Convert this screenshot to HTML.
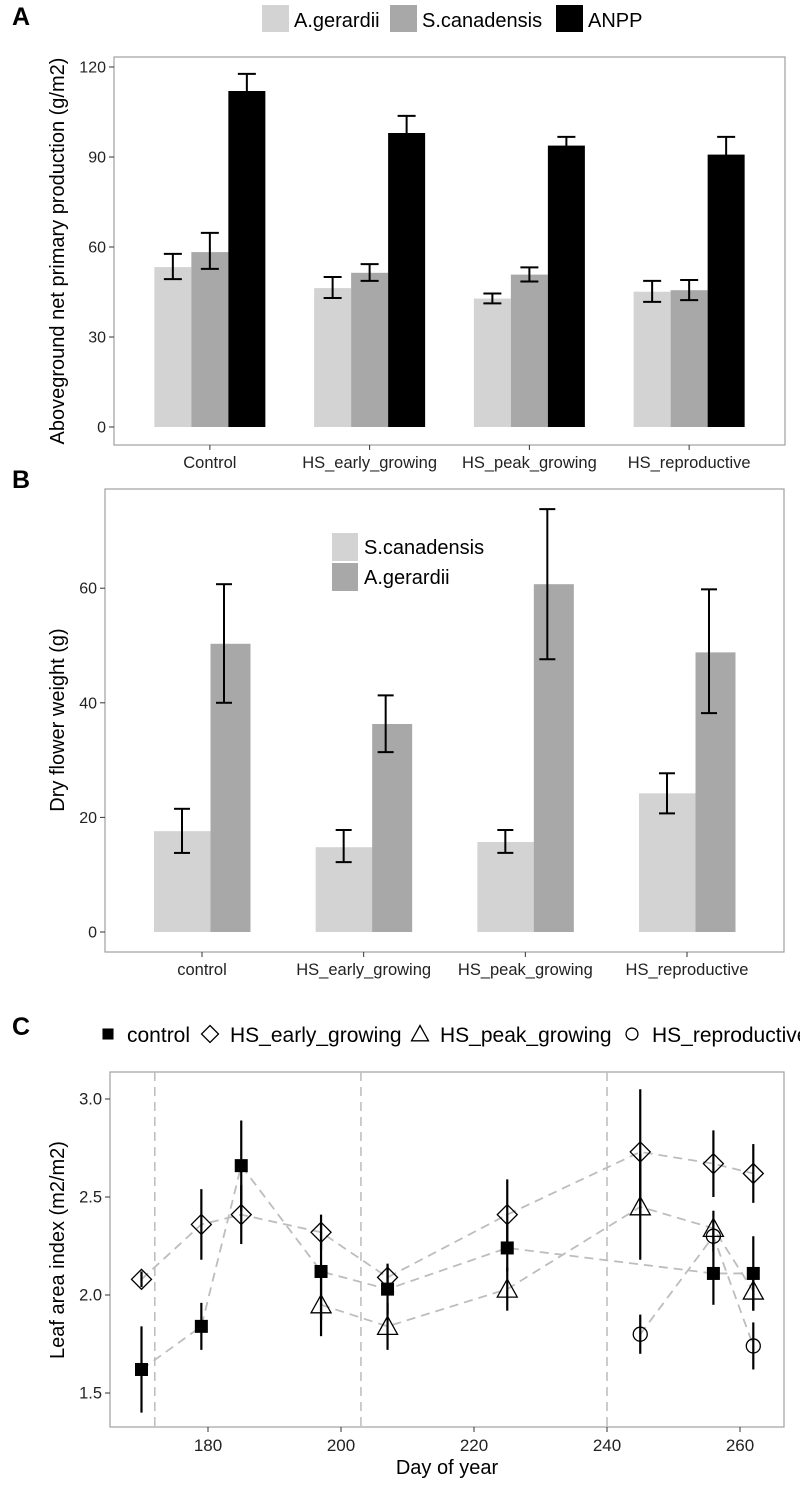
<!DOCTYPE html>
<html><head><meta charset="utf-8">
<style>
html,body{margin:0;padding:0;background:#fff;overflow:hidden;}
svg{display:block;font-family:"Liberation Sans",Arial,sans-serif;}
</style></head>
<body>
<svg id="fig" width="800" height="1485" viewBox="0 0 800 1485" xmlns="http://www.w3.org/2000/svg"></svg>
<script>
// ---------- Panel A data ----------
const aCategories = ["Control","HS_early_growing","HS_peak_growing","HS_reproductive"];
const aSeries = ["A.gerardii","S.canadensis","ANPP"];
const aGerardii = [53.3, 46.3, 42.8, 45.1];
const aGerardiiLo = [49.3, 43.0, 41.2, 41.7];
const aGerardiiHi = [57.7, 50.0, 44.5, 48.7];
const aCanadensis = [58.3, 51.4, 50.8, 45.6];
const aCanadensisLo = [52.7, 48.7, 48.5, 42.3];
const aCanadensisHi = [64.7, 54.3, 53.2, 49.0];
const aANPP = [112.0, 98.0, 93.8, 90.8];
const aANPPLo = [106.3, 92.3, 90.9, 84.9];
const aANPPHi = [117.7, 103.7, 96.7, 96.7];
const aTicks = [0, 30, 60, 90, 120];

// ---------- Panel B data ----------
const bCategories = ["control","HS_early_growing","HS_peak_growing","HS_reproductive"];
const bCanadensis = [17.6, 14.8, 15.7, 24.2];
const bCanadensisLo = [13.8, 12.2, 13.8, 20.7];
const bCanadensisHi = [21.5, 17.8, 17.8, 27.7];
const bGerardii = [50.3, 36.3, 60.7, 48.8];
const bGerardiiLo = [40.0, 31.4, 47.6, 38.2];
const bGerardiiHi = [60.7, 41.3, 73.8, 59.8];
const bTicks = [0, 20, 40, 60];

// ---------- Panel C data ----------
const cTicksX = [180, 200, 220, 240, 260];
const cTicksY = [1.5, 2.0, 2.5, 3.0];
const cVLines = [172, 203, 240];
const ctrlDays = [170, 179, 185, 197, 207, 225, 256, 262];
const ctrlVals = [1.62, 1.84, 2.66, 2.12, 2.03, 2.24, 2.11, 2.11];
const ctrlErr  = [0.22, 0.12, 0.23, 0.25, 0.13, 0.12, 0.16, 0.19];
const earlyDays = [170, 179, 185, 197, 207, 225, 245, 256, 262];
const earlyVals = [2.08, 2.36, 2.41, 2.32, 2.09, 2.41, 2.73, 2.67, 2.62];
const earlyErr  = [0.04, 0.18, 0.15, 0.09, 0.06, 0.18, 0.32, 0.17, 0.15];
const peakDays = [197, 207, 225, 245, 256, 262];
const peakVals = [1.95, 1.84, 2.03, 2.45, 2.34, 2.02];
const peakErr  = [0.16, 0.12, 0.11, 0.27, 0.09, 0.10];
const reproDays = [245, 256, 262];
const reproVals = [1.80, 2.30, 1.74];
const reproErr  = [0.10, 0.08, 0.12];

const NS = "http://www.w3.org/2000/svg";
const svg = document.getElementById("fig");
function mk(tag, attrs, parent) {
  const e = document.createElementNS(NS, tag);
  for (const k in attrs) e.setAttribute(k, attrs[k]);
  (parent || svg).appendChild(e);
  return e;
}
function txt(s, attrs, parent) { const t = mk("text", attrs, parent); t.textContent = s; return t; }

const LIGHT = "#d3d3d3", MID = "#a8a8a8", BORDER = "#a0a0a0";

// ================= PANEL A =================
const A = {l:114, r:785, t:57, b:445};
const aStep = (A.r - A.l) / 4.2;
function axA(i){ return A.l + (0.6 + i) * aStep; }
function ayA(v){ return 427 - v * 3; }
const gA = mk("g", {});


let e = txt("A", {x:12, y:25, "font-size":25, "font-weight":"bold"}, gA);
 
const aLegColors = [LIGHT, MID, "#000"];
const aLegX = [262, 390, 556];
aSeries.forEach((s, i) => {
  const lg = mk("g", {}, gA);
  
  
  mk("rect", {x:aLegX[i], y:5, width:27, height:27, fill:aLegColors[i]}, lg);
  txt(s, {x:aLegX[i]+32, y:27, "font-size":20}, lg);
});
e = mk("rect", {x:A.l, y:A.t, width:A.r-A.l, height:A.b-A.t, fill:"none", stroke:BORDER, "stroke-width":1.2}, gA);
 
aTicks.forEach(v => {
  mk("line", {x1:A.l-5, x2:A.l, y1:ayA(v), y2:ayA(v), stroke:"#333"}, gA);
  const t = txt(String(v), {x:A.l-8, y:ayA(v)+5.5, "font-size":16, "text-anchor":"end", fill:"#222"}, gA);
   
});
e = txt("Aboveground net primary production (g/m2)", {x:0, y:0, "font-size":20, "text-anchor":"middle", transform:"translate(64,251) rotate(-90)"}, gA);
 
const aVals = [aGerardii, aCanadensis, aANPP], aLo = [aGerardiiLo, aCanadensisLo, aANPPLo], aHi = [aGerardiiHi, aCanadensisHi, aANPPHi];
const bw = 37;
aCategories.forEach((c, i) => {
  const cx = axA(i);
  mk("line", {x1:cx, x2:cx, y1:A.b, y2:A.b+5, stroke:"#333"}, gA);
  const t = txt(c, {x:cx, y:468, "font-size":16.5, "text-anchor":"middle", fill:"#222"}, gA);
   
  for (let s = 0; s < 3; s++) {
    const x0 = cx - bw*1.5 + s*bw;
    const r = mk("rect", {x:x0, y:ayA(aVals[s][i]), width:bw, height:ayA(0)-ayA(aVals[s][i]), fill:aLegColors[s]}, gA);
    
    
  }
  for (let s = 0; s < 3; s++) {
    const ex = cx - bw + s*bw;
    const eg = mk("g", {stroke:"#000", "stroke-width":2}, gA);
    
    
    mk("line", {x1:ex, x2:ex, y1:ayA(aLo[s][i]), y2:ayA(aHi[s][i])}, eg);
    mk("line", {x1:ex-9, x2:ex+9, y1:ayA(aLo[s][i]), y2:ayA(aLo[s][i])}, eg);
    mk("line", {x1:ex-9, x2:ex+9, y1:ayA(aHi[s][i]), y2:ayA(aHi[s][i])}, eg);
  }
});

// ================= PANEL B =================
const B = {l:105, r:784, t:489, b:952};
const bStep = (B.r - B.l) / 4.2;
function axB(i){ return B.l + (0.6 + i) * bStep; }
function ayB(v){ return 932 - v * 5.73; }
const gB = mk("g", {});


e = txt("B", {x:12, y:488, "font-size":25, "font-weight":"bold"}, gB);
 
e = mk("rect", {x:B.l, y:B.t, width:B.r-B.l, height:B.b-B.t, fill:"none", stroke:BORDER, "stroke-width":1.2}, gB);
 
bTicks.forEach(v => {
  mk("line", {x1:B.l-5, x2:B.l, y1:ayB(v), y2:ayB(v), stroke:"#333"}, gB);
  const t = txt(String(v), {x:B.l-8, y:ayB(v)+5.5, "font-size":16, "text-anchor":"end", fill:"#222"}, gB);
   
});
e = txt("Dry flower weight (g)", {x:0, y:0, "font-size":20, "text-anchor":"middle", transform:"translate(64,720) rotate(-90)"}, gB);
 
bCategories.forEach((c, i) => {
  const cx = axB(i);
  mk("line", {x1:cx, x2:cx, y1:B.b, y2:B.b+5, stroke:"#333"}, gB);
  const t = txt(c, {x:cx, y:975, "font-size":16.5, "text-anchor":"middle", fill:"#222"}, gB);
   
  let r = mk("rect", {x:cx-48, y:ayB(bCanadensis[i]), width:57, height:ayB(0)-ayB(bCanadensis[i]), fill:LIGHT}, gB);
  
  
  r = mk("rect", {x:cx+8.5, y:ayB(bGerardii[i]), width:40, height:ayB(0)-ayB(bGerardii[i]), fill:MID}, gB);
  
  
  [[cx-20, bCanadensisLo[i], bCanadensisHi[i]], [cx+22, bGerardiiLo[i], bGerardiiHi[i]]].forEach(d => {
    const eg = mk("g", {stroke:"#000", "stroke-width":2}, gB);
    
    
    mk("line", {x1:d[0], x2:d[0], y1:ayB(d[1]), y2:ayB(d[2])}, eg);
    mk("line", {x1:d[0]-8, x2:d[0]+8, y1:ayB(d[1]), y2:ayB(d[1])}, eg);
    mk("line", {x1:d[0]-8, x2:d[0]+8, y1:ayB(d[2]), y2:ayB(d[2])}, eg);
  });
});
[["S.canadensis", LIGHT, 533], ["A.gerardii", MID, 563]].forEach(l => {
  const lg = mk("g", {}, gB);
  
  
  mk("rect", {x:332, y:l[2], width:26, height:28, fill:l[1]}, lg);
  txt(l[0], {x:364, y:l[2]+21, "font-size":20}, lg);
});

// ================= PANEL C =================
const C = {l:110, r:784, t:1072, b:1427};
function axC(d){ return 208 + (d - 180) * 6.65; }
function ayC(v){ return 1295 - (v - 2) * 196; }
const gC = mk("g", {});


e = txt("C", {x:12, y:1035, "font-size":25, "font-weight":"bold"}, gC);
 
function marker(type, x, y, g, s) {
  s = s || 1;
  if (type === "square") return mk("rect", {x:x-6.5*s, y:y-6.5*s, width:13*s, height:13*s, fill:"#000"}, g);
  if (type === "diamond") return mk("polygon", {points:`${x},${y-10*s} ${x+10*s},${y} ${x},${y+10*s} ${x-10*s},${y}`, fill:"none", stroke:"#000", "stroke-width":1.3}, g);
  if (type === "triangle") return mk("polygon", {points:`${x},${y-10*s} ${x+10*s},${y+8*s} ${x-10*s},${y+8*s}`, fill:"none", stroke:"#000", "stroke-width":1.3}, g);
  return mk("circle", {cx:x, cy:y, r:7*s, fill:"none", stroke:"#000", "stroke-width":1.3}, g);
}
[["control","square",108,127],["HS_early_growing","diamond",210,230],["HS_peak_growing","triangle",420,440],["HS_reproductive","circle",632,652]].forEach(l => {
  const lg = mk("g", {}, gC);
  
  
  marker(l[1], l[2], 1034, lg, 0.85);
  txt(l[0], {x:l[3], y:1042, "font-size":21}, lg);
});
e = mk("rect", {x:C.l, y:C.t, width:C.r-C.l, height:C.b-C.t, fill:"none", stroke:BORDER, "stroke-width":1.2}, gC);
 
cVLines.forEach(d => {
  const l = mk("line", {x1:axC(d), x2:axC(d), y1:C.t, y2:C.b, stroke:"#bbb", "stroke-width":1.5, "stroke-dasharray":"9,6"}, gC);
  
  
});
cTicksY.forEach(v => {
  mk("line", {x1:C.l-5, x2:C.l, y1:ayC(v), y2:ayC(v), stroke:"#333"}, gC);
  const t = txt(v.toFixed(1), {x:C.l-8, y:ayC(v)+5.5, "font-size":16.5, "text-anchor":"end", fill:"#222"}, gC);
   
});
cTicksX.forEach(d => {
  mk("line", {x1:axC(d), x2:axC(d), y1:C.b, y2:C.b+5, stroke:"#333"}, gC);
  const t = txt(String(d), {x:axC(d), y:1451, "font-size":17, "text-anchor":"middle", fill:"#222"}, gC);
   
});
e = txt("Day of year", {x:447, y:1474, "font-size":20, "text-anchor":"middle"}, gC);
 
e = txt("Leaf area index (m2/m2)", {x:0, y:0, "font-size":20, "text-anchor":"middle", transform:"translate(64,1250) rotate(-90)"}, gC);
 
const cSeries = [
  ["control", ctrlDays, ctrlVals, ctrlErr, "square"],
  ["hs-early-growing", earlyDays, earlyVals, earlyErr, "diamond"],
  ["hs-peak-growing", peakDays, peakVals, peakErr, "triangle"],
  ["hs-reproductive", reproDays, reproVals, reproErr, "circle"]
];
cSeries.forEach(s => {
  const pts = s[1].map((d, i) => axC(d) + "," + ayC(s[2][i])).join(" ");
  const pl = mk("polyline", {points:pts, fill:"none", stroke:"#bdbdbd", "stroke-width":1.8, "stroke-dasharray":"9,6"}, gC);
  
  
});
cSeries.forEach(s => {
  s[1].forEach((d, i) => {
    const el = mk("line", {x1:axC(d), x2:axC(d), y1:ayC(s[2][i]-s[3][i]), y2:ayC(s[2][i]+s[3][i]), stroke:"#000", "stroke-width":2.2}, gC);
    
    
  });
});
cSeries.forEach(s => {
  s[1].forEach((d, i) => {
    const m = marker(s[4], axC(d), ayC(s[2][i]), gC, 1);
    
    
  });
});
</script>
</body></html>
